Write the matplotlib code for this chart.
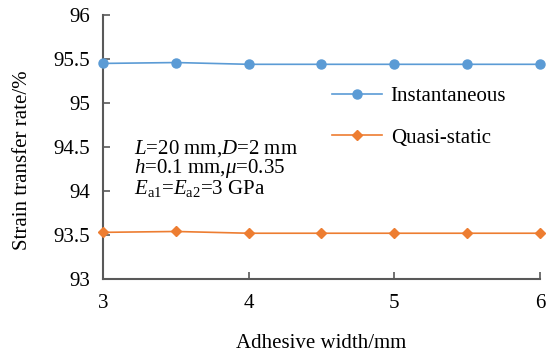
import numpy as np
import matplotlib
matplotlib.use('Agg')
import matplotlib.pyplot as plt

plt.rcParams['font.family'] = 'Liberation Serif'
plt.rcParams['mathtext.fontset'] = 'custom'
plt.rcParams['mathtext.rm'] = 'Liberation Serif'
plt.rcParams['mathtext.it'] = 'Liberation Serif:italic'

# adhesive width (mm) and strain transfer rate (%)
width = [3, 3.5, 4, 4.5, 5, 5.5, 6]
instantaneous = [95.45, 95.46, 95.44, 95.44, 95.44, 95.44, 95.44]
quasi_static = [93.53, 93.54, 93.52, 93.52, 93.52, 93.52, 93.52]

blue = '#5B9BD5'
orange = '#ED7D31'
grey = '#595959'

fig = plt.figure(figsize=(5.49, 3.58), dpi=100)
ax = fig.add_axes([0.1876, 0.2207, 0.7960, 0.7373])

ax.plot(width, instantaneous, color=blue, lw=1.2, marker='o', ms=6.5,
        label='Instantaneous', clip_on=False, zorder=3)
ax.plot(width, quasi_static, color=orange, lw=1.2, marker='D', ms=5.5,
        label='Quasi-static', clip_on=False, zorder=3)

ax.set_xlim(3, 6)
ax.set_ylim(93, 96)
ax.set_xticks([3, 4, 5, 6])
ax.set_yticks(np.arange(93, 96.01, 0.5))
ax.set_yticklabels(['93', '93.5', '94', '94.5', '95', '95.5', '96'])

for side in ['top', 'right']:
    ax.spines[side].set_visible(False)
for side in ['left', 'bottom']:
    ax.spines[side].set_color(grey)
    ax.spines[side].set_linewidth(1.5)
ax.tick_params(direction='in', length=5, width=1.2, color=grey,
               labelsize=15)
ax.tick_params(axis='y', pad=9.5)
ax.tick_params(axis='x', pad=11)

ax.set_xlabel('Adhesive width/mm', fontsize=15, labelpad=15)
ax.set_ylabel('Strain transfer rate/%', fontsize=15, labelpad=15, y=0.451)

ax.legend(loc='upper left', bbox_to_anchor=(0.482, 0.80), frameon=False,
          fontsize=15, handlelength=2.4, handletextpad=0.4, labelspacing=1.05)

ax.text(0.07, 0.535,
        '$L$=20 mm,$D$=2 mm\n$h$=0.1 mm,$\\mu$=0.35\n$E_{\\rm a1}$=$E_{\\rm a2}$=3 GPa',
        transform=ax.transAxes, fontsize=15, va='top', linespacing=0.88)

fig.savefig('out.png', dpi=100)
